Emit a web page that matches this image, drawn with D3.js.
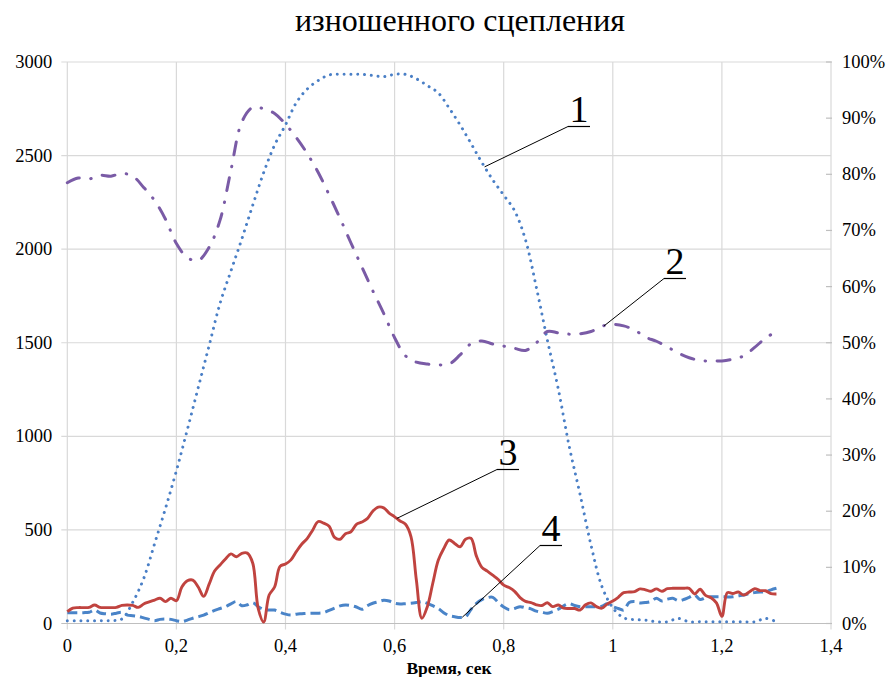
<!DOCTYPE html>
<html>
<head>
<meta charset="utf-8">
<script src="https://cdn.jsdelivr.net/npm/d3@7"></script>
<style>
  html, body { margin: 0; padding: 0; background: #fff; }
  svg { display: block; }
</style>
</head>
<body>
<svg id="chart" width="891" height="677"></svg>
<script>
// ---- text ----
const titleText = "изношенного сцепления";
const xAxisTitle = "Время, сек";
const serifFace = "'Liberation Serif', 'Times New Roman', 'DejaVu Serif', serif";

// ---- axes ----
const xTickValues = [0, 0.2, 0.4, 0.6, 0.8, 1.0, 1.2, 1.4];
const xTickLabels = ["0", "0,2", "0,4", "0,6", "0,8", "1", "1,2", "1,4"];
const leftTickValues = [0, 500, 1000, 1500, 2000, 2500, 3000];
const rightTickValues = [0, 10, 20, 30, 40, 50, 60, 70, 80, 90, 100];

// ---- sampling steps (seconds) ----
const coarseStep = 0.02;   // curves 1 and 2
const fineStep = 0.01;     // curves 3 and 4

// curve 1, dotted, right axis (%), t = 0 … 1.30 every 0.02 s
const curve1Percent = [
  0.5, 0.5, 0.5, 0.5, 0.5, 0.8, 3.8, 8.0, 14.2, 20.5,
  27.2, 34.5, 42.0, 49.5, 57.0, 62.8, 68.5, 74.5, 80.3, 85.2,
  88.8, 92.8, 95.2, 96.7, 97.7, 97.8, 97.8, 97.8, 97.6, 97.4,
  97.8, 97.8, 97.0, 95.8, 94.5, 91.8, 88.8, 85.5, 82.1, 79.0,
  76.3, 73.5, 68.3, 59.8, 50.5, 41.8, 31.6, 23.0, 14.0, 6.6,
  2.8, 1.0, 0.7, 0.6, 0.3, 0.3, 0.9, 0.3, 0.3, 0.3,
  0.3, 0.3, 0.3, 0.3, 0.9, 0.3
];

// curve 2, dash-dot, left axis, t = 0 … 1.30 every 0.02 s
const curve2Values = [
  2355, 2380, 2375, 2395, 2390, 2405, 2390, 2330, 2260, 2160,
  2030, 1955, 1940, 2010, 2155, 2422, 2680, 2758, 2750, 2725,
  2668, 2595, 2510, 2410, 2290, 2165, 2033, 1905, 1778, 1657,
  1527, 1430, 1396, 1386, 1382, 1386, 1435, 1495, 1510, 1493,
  1482, 1470, 1459, 1500, 1560, 1553, 1546, 1548, 1560, 1588,
  1598, 1590, 1568, 1530, 1508, 1478, 1445, 1420, 1405, 1403,
  1403, 1412, 1430, 1475, 1525, 1560
];

// curve 3, solid, left axis, t = 0 … 1.30 every 0.01 s
const curve3Values = [
  63, 82, 85, 85, 86, 99, 86, 85, 85, 86,
  97, 99, 97, 86, 104, 115, 125, 135, 117, 135,
  122, 195, 228, 232, 195, 145, 210, 280, 313, 345,
  372, 357, 375, 376, 322, 80, 8, 152, 195, 305,
  318, 340, 385, 425, 455, 500, 545, 536, 520, 460,
  450, 480, 490, 530, 542, 560, 600, 622, 618, 590,
  570, 548, 530, 464, 230, 28, 90, 215, 338, 400,
  446, 428, 410, 450, 455, 360, 300, 280, 258, 235,
  205, 192, 172, 138, 118, 112, 100, 96, 111, 90,
  99, 82, 80, 80, 72, 100, 110, 90, 82, 105,
  120, 140, 165, 168, 170, 185, 180, 172, 185, 172,
  186, 188, 188, 188, 188, 158, 183, 150, 138, 110,
  38, 165, 160, 168, 152, 168, 186, 176, 175, 160,
  158
];

// curve 4, dashed, left axis, t = 0 … 1.30 every 0.01 s
const curve4Values = [
  58, 58, 58, 58, 60, 72, 56, 52, 50, 55,
  60, 45, 42, 38, 30, 22, 15, 22, 24, 22,
  15, 10, 18, 28, 36, 45, 58, 70, 80, 90,
  105, 117, 95, 100, 111, 90, 75, 72, 72, 60,
  50, 45, 50, 52, 54, 55, 55, 58, 70, 82,
  94, 99, 96, 88, 76, 95, 108, 116, 124, 120,
  108, 104, 106, 108, 112, 117, 108, 95, 80, 58,
  42, 36, 32, 35, 75, 108, 128, 138, 140, 112,
  88, 74, 80, 90, 84, 78, 66, 60, 55, 64,
  76, 95, 106, 96, 90, 90, 90, 90, 92, 105,
  90, 80, 72, 112, 117, 110, 112, 118, 135, 120,
  130, 135, 122, 128, 140, 152, 128, 138, 143, 143,
  143, 142, 143, 148, 152, 160, 165, 168, 170, 180,
  188
];

// numbered callouts: which curve, where the leader touches it, where the number sits
const callouts = [
  { label: "1", curve: 1, t: 0.765, lx: 579, ly: 122 },
  { label: "2", curve: 2, t: 0.984, lx: 675, ly: 274 },
  { label: "3", curve: 3, t: 0.604, lx: 508, ly: 465 },
  { label: "4", curve: 4, t: 0.724, lx: 551, ly: 541 }
];

// ---- layout ----
const plot = { left: 67.3, right: 831, top: 62, bottom: 623.5 };

const svg = d3.select("#chart").attr("font-family", serifFace);

const x = d3.scaleLinear().domain([0, 1.4]).range([plot.left, plot.right]);
const yLeft = d3.scaleLinear().domain([0, 3000]).range([plot.bottom, plot.top]);
const yRight = d3.scaleLinear().domain([0, 100]).range([plot.bottom, plot.top]);

const toPoints = (vals, step) => vals.map((v, i) => ({ t: +(i * step).toFixed(2), v }));
const c1 = toPoints(curve1Percent, coarseStep);
const c2 = toPoints(curve2Values, coarseStep);
const c3 = toPoints(curve3Values, fineStep);
const c4 = toPoints(curve4Values, fineStep);

function label(sel) {
  return sel.attr("font-family", serifFace).attr("fill", "#000");
}

// ---- title ----
svg.append("text")
  .call(label)
  .attr("x", 460).attr("y", 31)
  .attr("text-anchor", "middle")
  .attr("font-size", 32)
  .text(titleText);

// ---- grid ----
const gridColor = "#d9d9d9";
const grid = svg.append("g");
grid.selectAll("line.h").data(leftTickValues.filter(d => d > 0)).join("line")
  .attr("x1", plot.left - 6).attr("x2", plot.right)
  .attr("y1", d => yLeft(d)).attr("y2", d => yLeft(d))
  .attr("stroke", gridColor).attr("stroke-width", 1.2);
grid.selectAll("line.v").data(xTickValues).join("line")
  .attr("x1", d => x(d)).attr("x2", d => x(d))
  .attr("y1", plot.top).attr("y2", plot.bottom + 6)
  .attr("stroke", gridColor).attr("stroke-width", 1.2);

// bottom axis line
svg.append("line")
  .attr("x1", plot.left - 6).attr("x2", plot.right)
  .attr("y1", plot.bottom).attr("y2", plot.bottom)
  .attr("stroke", "#bfbfbf").attr("stroke-width", 1.2);

// ---- left axis labels ----
svg.append("g").selectAll("text").data(leftTickValues).join("text")
  .call(label)
  .attr("x", plot.left - 15)
  .attr("y", d => yLeft(d) + 6)
  .attr("text-anchor", "end")
  .attr("font-size", 18.5)
  .text(d => String(d));

// ---- right axis ----
svg.append("g").selectAll("line").data(rightTickValues).join("line")
  .attr("x1", plot.right - 5).attr("x2", plot.right + 1)
  .attr("y1", d => yRight(d)).attr("y2", d => yRight(d))
  .attr("stroke", "#bfbfbf").attr("stroke-width", 1.2);
svg.append("g").selectAll("text").data(rightTickValues).join("text")
  .call(label)
  .attr("x", plot.right + 11)
  .attr("y", d => yRight(d) + 6)
  .attr("text-anchor", "start")
  .attr("font-size", 18.5)
  .text(d => d + "%");

// ---- x axis labels ----
svg.append("g").selectAll("text").data(xTickValues).join("text")
  .call(label)
  .attr("x", d => x(d))
  .attr("y", 652)
  .attr("text-anchor", "middle")
  .attr("font-size", 18.5)
  .text((d, i) => xTickLabels[i]);

svg.append("text")
  .call(label)
  .attr("x", 449).attr("y", 674)
  .attr("text-anchor", "middle")
  .attr("font-size", 17.5)
  .attr("font-weight", "bold")
  .text(xAxisTitle);

// ---- curves ----
const curve = d3.curveCatmullRom.alpha(0.5);
const lineLeft = d3.line().x(d => x(d.t)).y(d => yLeft(d.v)).curve(curve);
const lineRight = d3.line().x(d => x(d.t)).y(d => yRight(d.v)).curve(curve);

const curves = svg.append("g").attr("fill", "none");

// 1: dotted
curves.append("path").datum(c1)
  .attr("d", lineRight)
  .attr("stroke", "#4a7fc6").attr("stroke-width", 3)
  .attr("stroke-linecap", "round")
  .attr("stroke-dasharray", "0.01 6.8");

// 2: dash-dot
curves.append("path").datum(c2)
  .attr("d", lineLeft)
  .attr("stroke", "#7a5ba6").attr("stroke-width", 3)
  .attr("stroke-linecap", "round")
  .attr("stroke-dasharray", "13 11.5 0.5 11.5");

// 4: dashed
curves.append("path").datum(c4)
  .attr("d", lineLeft)
  .attr("stroke", "#4a84c8").attr("stroke-width", 3)
  .attr("stroke-dasharray", "10 5");

// 3: solid
curves.append("path").datum(c3)
  .attr("d", lineLeft)
  .attr("stroke", "#c0433f").attr("stroke-width", 2.9)
  .attr("stroke-linejoin", "round");

// ---- callouts ----
const seriesFor = { 1: { pts: c1, y: yRight }, 2: { pts: c2, y: yLeft }, 3: { pts: c3, y: yLeft }, 4: { pts: c4, y: yLeft } };
function valueAt(pts, t) {
  const i = d3.bisector(d => d.t).right(pts, t);
  const a = pts[Math.max(0, i - 1)], b = pts[Math.min(pts.length - 1, i)];
  if (a === b) return a.v;
  return a.v + (b.v - a.v) * (t - a.t) / (b.t - a.t);
}
const cg = svg.append("g");
callouts.forEach(c => {
  const s = seriesFor[c.curve];
  const px = x(c.t), py = s.y(valueAt(s.pts, c.t));
  const uy = c.ly + 4.5;
  cg.append("line")
    .attr("x1", c.lx - 11).attr("x2", c.lx + 11)
    .attr("y1", uy).attr("y2", uy)
    .attr("stroke", "#000").attr("stroke-width", 1.2);
  cg.append("line")
    .attr("x1", c.lx - 11).attr("y1", uy)
    .attr("x2", px).attr("y2", py)
    .attr("stroke", "#000").attr("stroke-width", 1);
  cg.append("text")
    .call(label)
    .attr("x", c.lx).attr("y", c.ly)
    .attr("text-anchor", "middle")
    .attr("font-size", 38)
    .text(c.label);
});
</script>
</body>
</html>
